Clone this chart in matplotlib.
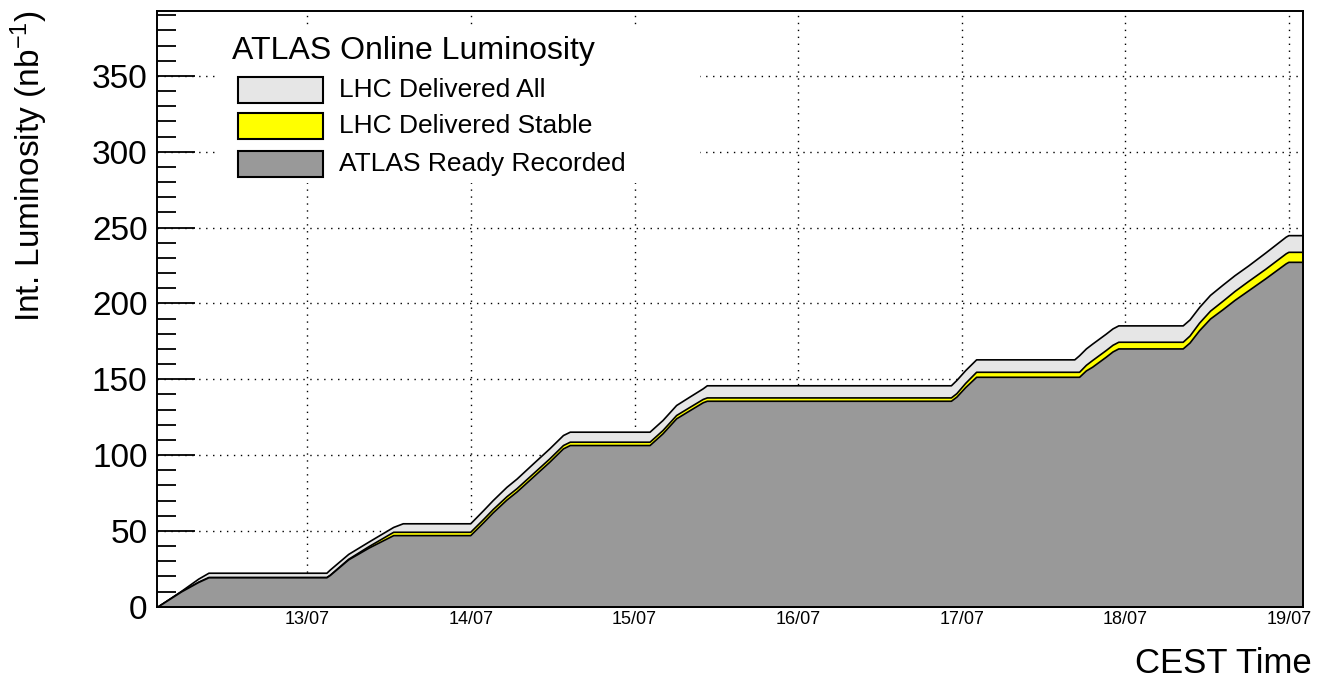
import matplotlib
matplotlib.use('Agg')
import matplotlib.pyplot as plt
import matplotlib.dates as mdates
from matplotlib.patches import Rectangle
from matplotlib.ticker import MultipleLocator
import pandas as pd

# cumulative luminosity (nb^-1)
times = ['07-12 02:00', '07-12 05:30', '07-12 08:00', '07-12 09:30',
         '07-13 02:48', '07-13 03:18', '07-13 06:00', '07-13 09:00', '07-13 12:36', '07-13 14:00',
         '07-13 23:54', '07-14 01:48', '07-14 03:12', '07-14 05:12', '07-14 06:42', '07-14 09:06',
         '07-14 11:30', '07-14 13:30', '07-14 14:30',
         '07-15 02:12', '07-15 04:06', '07-15 06:06', '07-15 08:00', '07-15 10:00', '07-15 10:36',
         '07-16 22:24', '07-16 23:12', '07-17 00:30', '07-17 02:06',
         '07-17 16:30', '07-17 17:12', '07-17 18:12', '07-17 19:06', '07-17 20:06', '07-17 21:06',
         '07-17 22:06', '07-17 22:57',
         '07-18 08:24', '07-18 09:24', '07-18 10:48', '07-18 12:24', '07-18 14:12', '07-18 16:00',
         '07-18 18:00', '07-18 20:30', '07-18 23:30', '07-18 23:54',
         '07-19 02:00']

lumi_all = [0, 10.5, 18.5, 22.4,
            22.4, 24.5, 34.8, 43.0, 52.6, 55.0,
            55.0, 63.7, 70.3, 79.0, 84.5, 94.5, 104.4, 113.2, 115.4,
            115.4, 123.1, 133.0, 138.4, 144.0, 146.0,
            146.0, 149.5, 156.0, 163.1,
            163.1, 165.8, 170.3, 173.4, 176.7, 180.0, 183.5, 185.5,
            185.5, 189.4, 197.6, 205.6, 212.2, 218.6, 225.0, 233.5, 244.0, 245.0,
            245.0]

lumi_stable = [0, 10.2, 16.5, 19.6,
               19.6, 21.1, 31.6, 40.0, 49.4, 49.4,
               49.4, 57.9, 64.4, 72.8, 78.2, 88.0, 97.8, 106.6, 108.8,
               108.8, 116.5, 126.4, 131.6, 137.0, 138.0,
               138.0, 140.8, 147.6, 154.9,
               154.9, 154.9, 159.5, 162.6, 165.9, 169.2, 172.7, 174.7,
               174.7, 178.8, 187.3, 195.2, 201.6, 208.2, 214.8, 222.8, 233.0, 234.0,
               234.0]

lumi_recorded = [0, 10.1, 16.3, 19.4,
                 19.4, 20.9, 31.2, 39.0, 47.2, 47.2,
                 47.2, 55.7, 62.2, 70.6, 76.0, 85.8, 95.6, 104.4, 106.6,
                 106.6, 114.3, 124.2, 129.4, 134.8, 135.8,
                 135.8, 138.5, 144.8, 151.6,
                 151.6, 151.6, 155.8, 158.2, 161.5, 164.8, 168.3, 170.3,
                 170.3, 174.2, 182.3, 190.0, 196.0, 202.3, 208.6, 216.5, 226.4, 227.4,
                 227.4]

legend_title = 'ATLAS Online Luminosity'
labels = ['LHC Delivered All', 'LHC Delivered Stable', 'ATLAS Ready Recorded']
colors = ['#e6e6e6', '#ffff00', '#999999']

plt.rcParams['font.family'] = ['Liberation Sans', 'DejaVu Sans']
plt.rcParams['mathtext.fontset'] = 'custom'
plt.rcParams['mathtext.rm'] = 'Liberation Sans'
plt.rcParams['mathtext.it'] = 'Liberation Sans:italic'

t = pd.to_datetime(['2015-' + s for s in times])

fig = plt.figure(figsize=(13.17, 6.81), dpi=100)
ax = fig.add_axes([157.3 / 1317, 74.3 / 681, 1145.4 / 1317, 596 / 681])

for lumi, c in zip([lumi_all, lumi_stable, lumi_recorded], colors):
    ax.fill_between(t, lumi, 0, facecolor=c, edgecolor='black', linewidth=1.2, zorder=2)

ax.set_xlim(pd.Timestamp('2015-07-12 02:00'), pd.Timestamp('2015-07-19 02:00'))
ax.set_ylim(0, 393)

ax.xaxis.set_major_locator(mdates.DayLocator())
ax.xaxis.set_major_formatter(mdates.DateFormatter('%d/%m'))
ax.yaxis.set_major_locator(MultipleLocator(50))
ax.yaxis.set_minor_locator(MultipleLocator(10))

ax.tick_params(axis='x', which='both', length=0, pad=3, labelsize=13)
ax.tick_params(axis='y', which='major', direction='in', length=27, width=1.3, pad=7, labelsize=24)
ax.tick_params(axis='y', which='minor', direction='in', length=13.5, width=1.3)

ax.set_axisbelow(True)
ax.grid(True, which='major', color='black', linestyle=(0, (1, 4)), linewidth=1.0)
for s in ax.spines.values():
    s.set_linewidth(1.4)

ax.set_ylabel(r'Int. Luminosity (nb$^{-1}$)', fontsize=24, loc='top')
ax.yaxis.set_label_coords(-0.094, 1.0)
ax.set_xlabel('CEST Time', fontsize=25, loc='right')
ax.xaxis.set_label_coords(1.008, -0.067)


# legend drawn by hand, ROOT style, positions in image pixels
def px(x, y):
    return (x - 157.3) / 1145.4, (606.7 - y) / 596


x0, y0 = px(219, 183)
x1, y1 = px(700, 28)
ax.add_patch(Rectangle((x0, y0), x1 - x0, y1 - y0, transform=ax.transAxes,
                       facecolor='white', edgecolor='none', zorder=3))
tx, ty = px(232, 51)
ax.text(tx, ty, legend_title, transform=ax.transAxes, fontsize=23,
        va='center', ha='left', zorder=4)
box_top = [76.7, 112.7, 150.7]
for lab, c, bt in zip(labels, colors, box_top):
    bx, by = px(238.3, bt + 26.6)
    bx2, by2 = px(323.3, bt)
    ax.add_patch(Rectangle((bx, by), bx2 - bx, by2 - by, transform=ax.transAxes,
                           facecolor=c, edgecolor='black', linewidth=1.5, zorder=4))
    lx, ly = px(339, bt + 13.3)
    ax.text(lx, ly, lab, transform=ax.transAxes, fontsize=19,
            va='center', ha='left', zorder=4)

fig.savefig('out.png', dpi=100)
